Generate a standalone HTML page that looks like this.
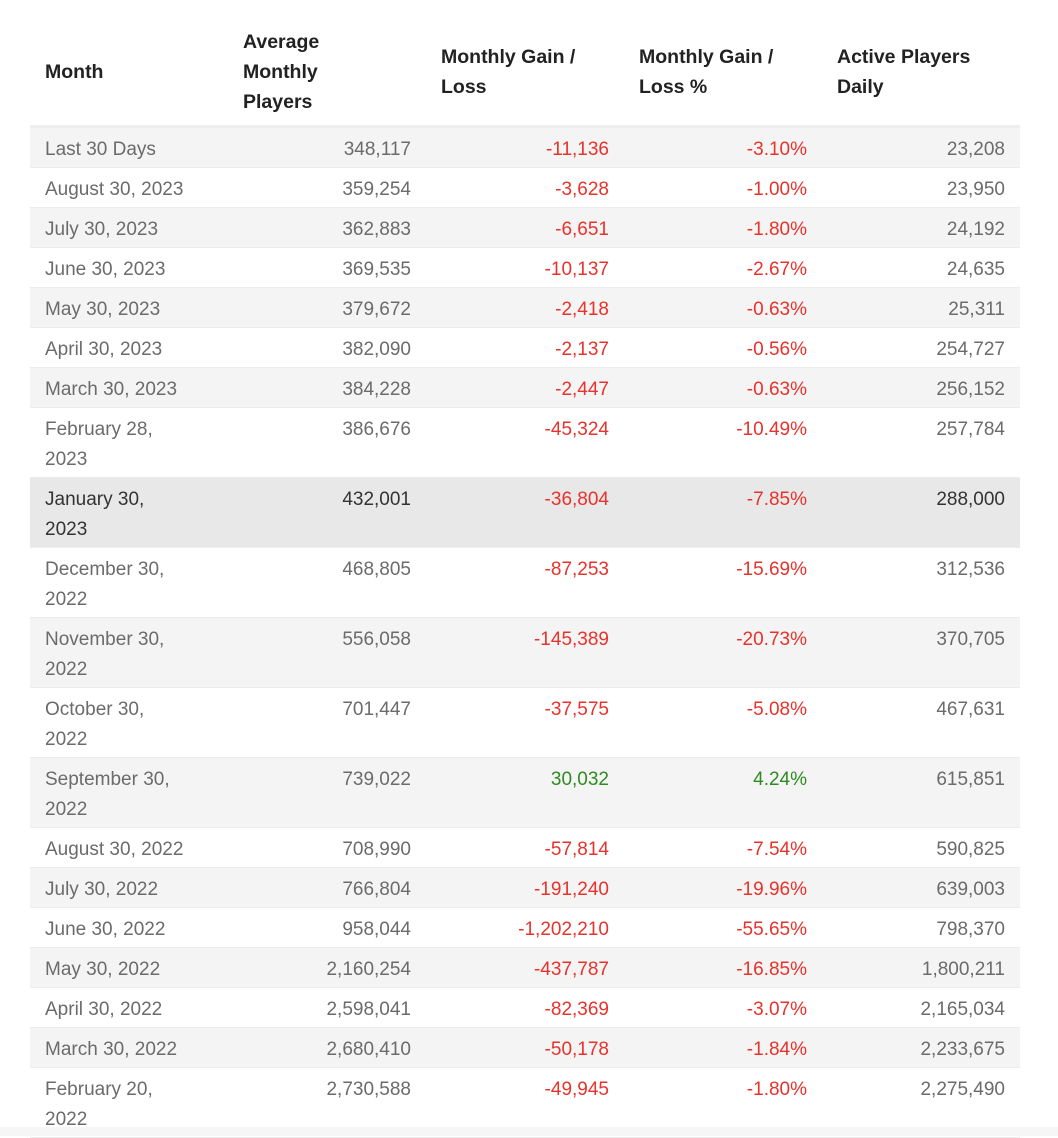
<!DOCTYPE html>
<html><head><meta charset="utf-8"><style>
html,body{margin:0;padding:0;background:#fff;width:1058px;height:1136px;overflow:hidden}
table{position:absolute;left:30px;top:0;width:990px;border-collapse:collapse;table-layout:fixed;font-family:"Liberation Sans",sans-serif;font-size:19px;line-height:30px}
th{height:107px;color:#222;font-weight:bold;text-align:left;padding:18px 15px 0;vertical-align:middle;border-bottom:3px solid #eee;font-size:19.5px}
td{padding:7px 15px 2px;vertical-align:top;color:#6b6b6b;border-bottom:1px solid #ececec;height:30px;box-sizing:content-box}
td.n{text-align:right}
tr.g td{background:#f4f4f4}
tr.h td{background:#e8e8e8;color:#333}
tr td.r{color:#e8322b}
tr td.gr{color:#2f8a22}
td.two{height:60px}
.foot{position:absolute;left:0;top:1127px;width:1058px;height:9px;background:#f6f6f6}
</style></head><body>
<table>
<colgroup><col style="width:198px"><col style="width:198px"><col style="width:198px"><col style="width:198px"><col style="width:198px"></colgroup>
<thead><tr>
<th>Month</th>
<th>Average<br>Monthly<br>Players</th>
<th>Monthly Gain /<br>Loss</th>
<th>Monthly Gain /<br>Loss %</th>
<th>Active Players<br>Daily</th>
</tr></thead>
<tbody id="tb"></tbody>
</table>
<div class="foot"></div>
<script>
const months=["Last 30 Days","August 30, 2023","July 30, 2023","June 30, 2023","May 30, 2023","April 30, 2023","March 30, 2023","February 28, 2023","January 30, 2023","December 30, 2022","November 30, 2022","October 30, 2022","September 30, 2022","August 30, 2022","July 30, 2022","June 30, 2022","May 30, 2022","April 30, 2022","March 30, 2022","February 20, 2022"];
const avgPlayers=["348,117","359,254","362,883","369,535","379,672","382,090","384,228","386,676","432,001","468,805","556,058","701,447","739,022","708,990","766,804","958,044","2,160,254","2,598,041","2,680,410","2,730,588"];
const gains=["-11,136","-3,628","-6,651","-10,137","-2,418","-2,137","-2,447","-45,324","-36,804","-87,253","-145,389","-37,575","30,032","-57,814","-191,240","-1,202,210","-437,787","-82,369","-50,178","-49,945"];
const gainPct=["-3.10%","-1.00%","-1.80%","-2.67%","-0.63%","-0.56%","-0.63%","-10.49%","-7.85%","-15.69%","-20.73%","-5.08%","4.24%","-7.54%","-19.96%","-55.65%","-16.85%","-3.07%","-1.84%","-1.80%"];
const daily=["23,208","23,950","24,192","24,635","25,311","254,727","256,152","257,784","288,000","312,536","370,705","467,631","615,851","590,825","639,003","798,370","1,800,211","2,165,034","2,233,675","2,275,490"];
const twoLine=/^(February|January|December|November|October|September) \d+, 20\d\d$/;
const tb=document.getElementById('tb');
months.forEach((m,i)=>{
  const tr=document.createElement('tr');
  
  
  if(i===8)tr.className='h';else if(i%2===0)tr.className='g';
  const vals=[m,avgPlayers[i],gains[i],gainPct[i],daily[i]];
  const names=['month-cell','avg-players-cell','gain-cell','gain-pct-cell','daily-cell'];
  const two=twoLine.test(m);
  vals.forEach((v,j)=>{
    const td=document.createElement('td');
    
    
    td.textContent=v;
    let c=j>0?'n':'';
    if(j===2||j===3)c+=v.startsWith('-')?' r':' gr';
    if(two)c+=' two';
    td.className=c;
    if(j===0&&two)td.innerHTML=m.replace(', ',',<br>');
    tr.appendChild(td);
  });
  tb.appendChild(tr);
});
</script>
</body></html>
